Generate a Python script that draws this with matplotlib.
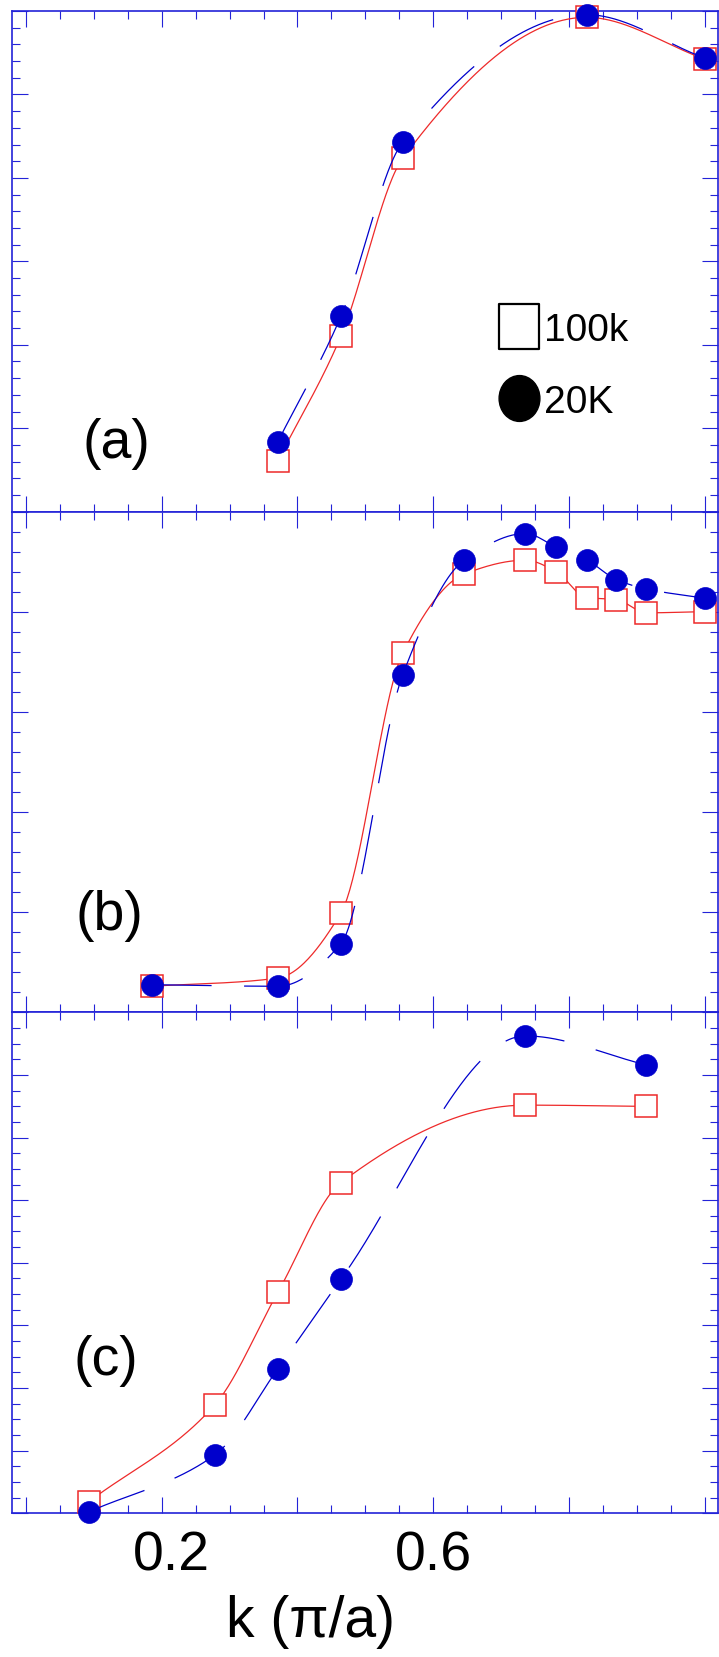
import numpy as np
import matplotlib
matplotlib.use("Agg")
import matplotlib.pyplot as plt
from matplotlib.path import Path
from matplotlib.transforms import Affine2D, ScaledTranslation
from matplotlib.lines import Line2D
from matplotlib.ticker import MultipleLocator

plt.rcParams['font.family'] = ['Liberation Sans', 'DejaVu Sans']

# k values (pi/a) and the two temperatures for each panel
k_a = [0.371, 0.464, 0.555, 0.826, 1.000]
hot_a = [3.06, 10.51, 21.17, 29.62, 27.12]
cold_a = [4.19, 11.71, 22.13, 29.78, 27.18]

k_b = [0.185, 0.371, 0.464, 0.555, 0.646, 0.736, 0.781, 0.826, 0.870, 0.914, 1.000]
hot_b = [1.30, 1.71, 4.96, 17.93, 21.89, 22.58, 22.01, 20.71, 20.61, 19.95, 20.01]
cold_b = [1.38, 1.30, 3.43, 16.85, 22.59, 23.91, 23.24, 22.60, 21.61, 21.14, 20.68]

k_c = [0.092, 0.278, 0.371, 0.464, 0.736, 0.914]
hot_c = [0.72, 6.92, 14.11, 21.12, 26.07, 25.99]
cold_c = [0.08, 3.72, 9.23, 14.96, 30.49, 28.64]

panel_names = ["(a)", "(b)", "(c)"]
legend_labels = ["100k", "20K"]

BLUE = "#0000cc"
AXC = "#2323d8"
RED = "#ee2a2a"


def smooth(x, y, n=400):
    # monotone cubic (pchip) through the points, just for drawing the curves
    x = np.asarray(x, float)
    y = np.asarray(y, float)
    h = np.diff(x)
    d = np.diff(y) / h
    m = np.zeros_like(y)
    for i in range(1, len(x) - 1):
        if d[i - 1] * d[i] > 0:
            w1 = 2 * h[i] + h[i - 1]
            w2 = h[i] + 2 * h[i - 1]
            m[i] = (w1 + w2) / (w1 / d[i - 1] + w2 / d[i])
    m[0] = d[0]
    m[-1] = d[-1]
    xs = np.linspace(x[0], x[-1], n)
    i = np.clip(np.searchsorted(x, xs) - 1, 0, len(x) - 2)
    t = (xs - x[i]) / h[i]
    h00 = 2 * t**3 - 3 * t**2 + 1
    h10 = t**3 - 2 * t**2 + t
    h01 = -2 * t**3 + 3 * t**2
    h11 = t**3 - t**2
    ys = h00 * y[i] + h10 * h[i] * m[i] + h01 * y[i + 1] + h11 * h[i] * m[i + 1]
    return xs, ys


fig = plt.figure(figsize=(7.19, 16.58), dpi=100)

W, H = 719.0, 1658.0
left, right = 12.3, 718.0
tops = [12.0, 512.7, 1013.3]
bots = [512.7, 1013.3, 1514.3]
ylims = [30, 25, 32]
ymajor = [5, 5, 4]
label_pos = [(0.147, 0.137), (0.138, 0.194), (0.132, 0.305)]

data = [(k_a, hot_a, cold_a), (k_b, hot_b, cold_b), (k_c, hot_c, cold_c)]

axes = []
for p in range(3):
    ax = fig.add_axes([left / W, 1 - bots[p] / H, (right - left) / W, (bots[p] - tops[p]) / H])
    axes.append(ax)
    k, hot, cold = data[p]

    xs, ys = smooth(k, hot)
    ax.plot(xs, ys, color=RED, lw=0.9, zorder=2)
    ax.plot(k, hot, ls="none", marker="s", ms=15.5, mfc="white", mec=RED,
            mew=1.1, zorder=3, clip_on=False)

    xs, ys = smooth(k, cold)
    ln, = ax.plot(xs, ys, color=BLUE, lw=0.9, zorder=4)
    ln.set_dashes([48, 26])
    ax.plot(k, cold, ls="none", marker="o", ms=15.8, mfc=BLUE, mec=BLUE,
            mew=0.5, zorder=5, clip_on=False)

    ax.set_xlim(-0.0203, 1.0197)
    ax.set_ylim(0, ylims[p])

    ax.xaxis.set_major_locator(MultipleLocator(0.2))
    ax.xaxis.set_minor_locator(MultipleLocator(0.05))
    ax.yaxis.set_major_locator(MultipleLocator(ymajor[p]))
    ax.yaxis.set_minor_locator(MultipleLocator(1))
    ax.tick_params(which="both", direction="in", top=True, bottom=True,
                   left=True, right=True, labelleft=False, color=AXC, width=0.8)
    ax.tick_params(which="major", length=11.5)
    ax.tick_params(which="minor", length=6)
    for s in ax.spines.values():
        s.set_color(AXC)
        s.set_linewidth(1.2)

    ax.text(label_pos[p][0], label_pos[p][1], panel_names[p], transform=ax.transAxes,
            ha="center", va="center", fontsize=40)

    if p < 2:
        ax.tick_params(labelbottom=False)

# bottom panel tick labels: only 0.2 and 0.6
axc = axes[2]
axc.set_xticks([0.0, 0.2, 0.4, 0.6, 0.8, 1.0], ["", "0.2", "", "0.6", "", ""])
axc.tick_params(axis="x", labelsize=40, pad=12)
lab = axc.get_xticklabels()[1]
lab.set_transform(lab.get_transform() + ScaledTranslation(0.10, 0, fig.dpi_scale_trans))

fig.text(310 / W, 1 - 1637 / H, "k (\u03c0/a)", ha="center", va="baseline", fontsize=41)

# legend in panel (a)
sq = Path.unit_rectangle().transformed(Affine2D().translate(-0.5, -0.5).scale(0.89, 1))
ell = Path.unit_circle().transformed(Affine2D().scale(0.89, 1))
handles = [
    Line2D([], [], ls="none", marker=sq, ms=32.4, mfc="white", mec="black", mew=1.6),
    Line2D([], [], ls="none", marker=ell, ms=33, mfc="black", mec="black"),
]
axes[0].legend(handles, legend_labels, loc="center left", bbox_to_anchor=(0.687, 0.291),
               frameon=False, borderpad=0, handlelength=1.1, handletextpad=0.11,
               labelspacing=0.93, fontsize=28, borderaxespad=0)

fig.savefig("out.png", dpi=100)
